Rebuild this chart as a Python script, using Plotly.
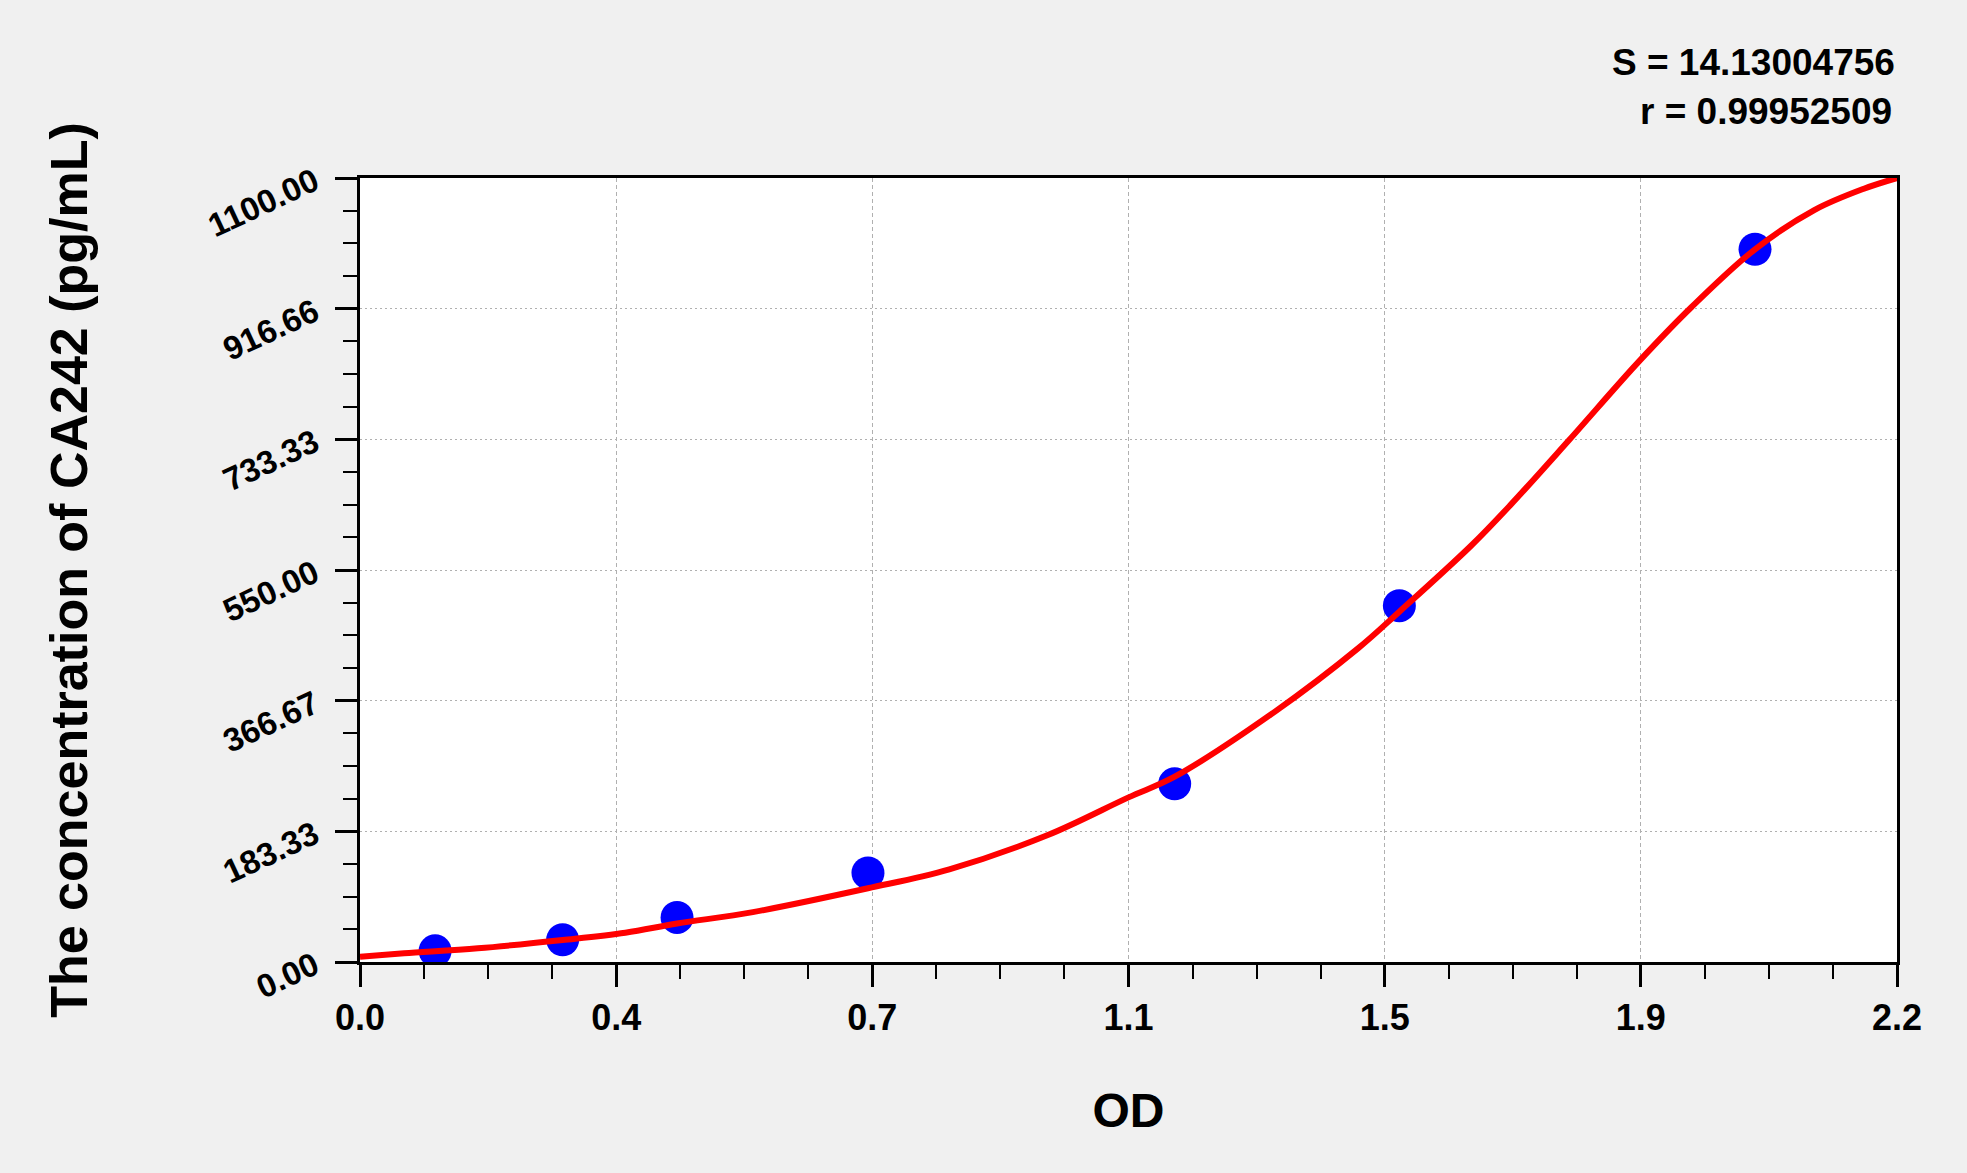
import plotly.graph_objects as go

# standard points (OD vs concentration)
od_std = [0.109, 0.294, 0.460, 0.737, 1.182, 1.508, 2.024]
conc_std = [15.625, 31.25, 62.5, 125, 250, 500, 1000]

# fitted curve
od_fit = [0.0, 0.064, 0.171, 0.294, 0.385, 0.460, 0.570, 0.737, 0.855, 0.998,
          1.115, 1.182, 1.327, 1.448, 1.508, 1.612, 1.669, 1.754, 1.855, 1.932,
          2.024, 2.110, 2.182, 2.230]
conc_fit = [7.4, 12.2, 19.2, 30.9, 41.1, 54.0, 70.0, 103.4, 130.0, 178.2,
            231.0, 260.0, 351.0, 440.0, 491.5, 584.0, 641.0, 732.0, 842.0, 919.0,
            1000.0, 1055.0, 1085.0, 1100.0]

x_max = 2.23
x_ticktext = ["0.0", "0.4", "0.7", "1.1", "1.5", "1.9", "2.2"]
y_max = 1100
y_ticktext = ["0.00", "183.33", "366.67", "550.00", "733.33", "916.66", "1100.00"]

s_value = "14.13004756"
r_value = "0.99952509"

x_tickvals = [x_max * i / 6 for i in range(7)]
x_minor = [x_max * i / 24 for i in range(25) if i % 4]
y_tickvals = [y_max * i / 6 for i in range(7)]
y_minor = [y_max * i / 24 for i in range(25) if i % 4]

font = "Liberation Sans, Arial, sans-serif"

fig = go.Figure()
fig.add_trace(go.Scatter(
    x=od_std, y=conc_std, mode="markers",
    marker=dict(size=33, color="#0000FF"),
    showlegend=False
))
fig.add_trace(go.Scatter(
    x=od_fit, y=conc_fit, mode="lines",
    line=dict(color="#FF0000", width=6, shape="spline"),
    showlegend=False
))

axis_common = dict(
    showline=True, linecolor="black", linewidth=3, mirror=True,
    ticks="outside", ticklen=22, tickwidth=3, tickcolor="black",
    showgrid=True, gridcolor="#b0b0b0", gridwidth=1,
    zeroline=False,
)

fig.update_xaxes(
    range=[0, x_max], tickmode="array", tickvals=x_tickvals, ticktext=x_ticktext,
    tickfont=dict(family=font, size=36, color="black", weight="bold"),
    minor=dict(tickmode="array", tickvals=x_minor, ticks="outside", ticklen=14,
               tickwidth=2, tickcolor="black", showgrid=False),
    title=dict(text="OD", font=dict(family=font, size=48, color="black", weight="bold"),
               standoff=57),
    ticklabelstandoff=0,
    griddash="4px,3px",
    **axis_common
)
fig.update_yaxes(
    range=[0, y_max], tickmode="array", tickvals=y_tickvals, ticktext=y_ticktext,
    tickangle=-25,
    tickfont=dict(family=font, size=33, color="black", weight="bold"),
    minor=dict(tickmode="array", tickvals=y_minor, ticks="outside", ticklen=14,
               tickwidth=2, tickcolor="black", showgrid=False),
    title=dict(text="The concentration of CA242 (pg/mL)",
               font=dict(family=font, size=52, color="black", weight="bold"),
               standoff=99),
    ticklabelstandoff=14,
    griddash="2px,3px",
    **axis_common
)

fig.add_annotation(
    text="S = " + s_value, xref="paper", yref="paper", x=1.0, y=1.1467,
    xanchor="right", yanchor="middle", showarrow=False,
    font=dict(family=font, size=37, color="black", weight="bold")
)
fig.add_annotation(
    text="r = " + r_value, xref="paper", yref="paper", x=0.998, y=1.0842,
    xanchor="right", yanchor="middle", showarrow=False,
    font=dict(family=font, size=37, color="black", weight="bold")
)

fig.update_layout(
    width=1967, height=1173,
    margin=dict(l=360, r=70, t=178, b=211, autoexpand=False),
    paper_bgcolor="#F0F0F0", plot_bgcolor="white",
)

fig.write_html("out.html", config={"displayModeBar": False},
               post_script="document.body.style.margin='0';document.body.style.overflow='hidden';")
